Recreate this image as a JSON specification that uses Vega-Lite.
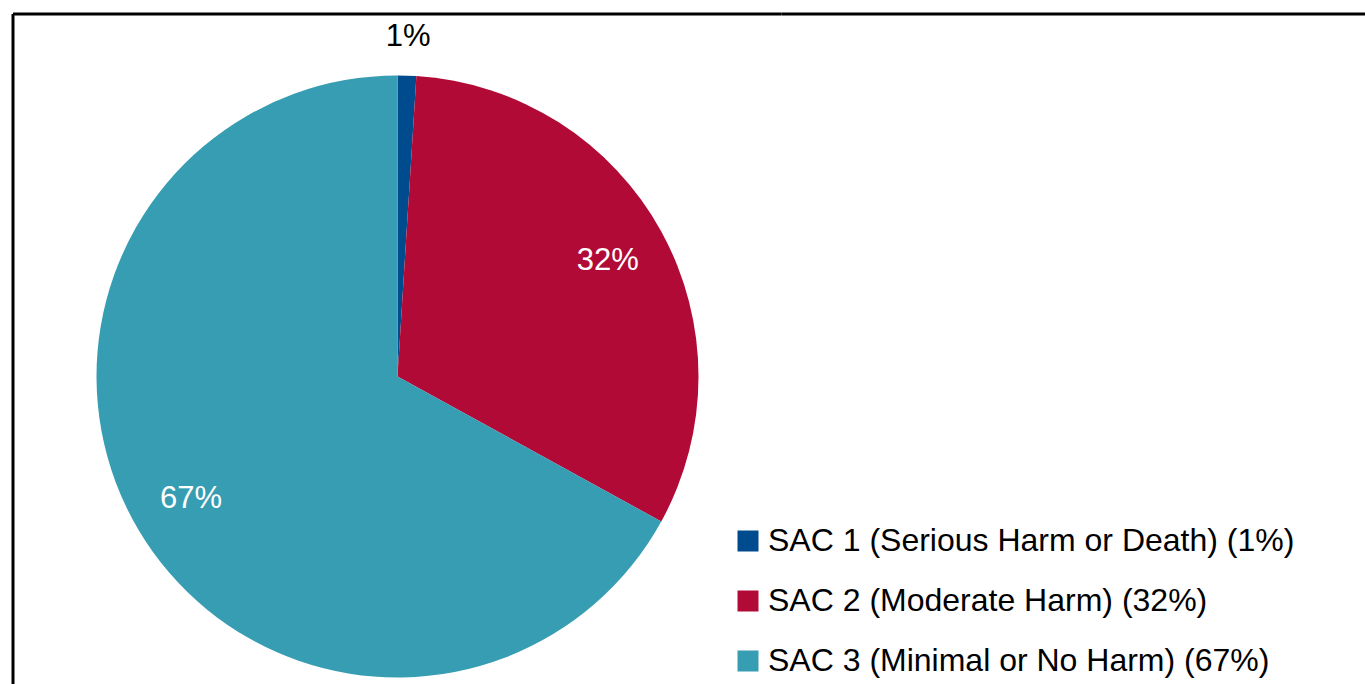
{
  "$schema": "https://vega.github.io/schema/vega-lite/v6.json",
  "padding": {"left": 11, "top": 12, "right": 0, "bottom": -57},
  "spacing": 0,
  "bounds": "flush",
  "background": "white",
  "config": {
    "font": "Liberation Sans",
    "view": {"stroke": "#000000", "strokeWidth": 3}
  },
  "datasets": {
    "sac": [
      {"cat": "SAC 1 (Serious Harm or Death) (1%)", "value": 1, "label": "1%", "ord": 1},
      {"cat": "SAC 2 (Moderate Harm) (32%)", "value": 32, "label": "32%", "ord": 2},
      {"cat": "SAC 3 (Minimal or No Harm) (67%)", "value": 67, "label": "67%", "ord": 3}
    ]
  },
  "hconcat": [
    {
      "width": 769,
      "height": 725,
      "view": {"stroke": "#000000", "strokeWidth": 3, "strokeDash": [768.8, 1494.2, 725, 0]},
      "data": {"name": "sac"},
      "layer": [
        {
          "mark": {"type": "arc", "outerRadius": 301},
          "encoding": {
            "theta": {"field": "value", "type": "quantitative", "stack": true},
            "order": {"field": "ord", "type": "quantitative"},
            "color": {
              "field": "cat",
              "type": "nominal",
              "scale": {
                "domain": ["SAC 1 (Serious Harm or Death) (1%)", "SAC 2 (Moderate Harm) (32%)", "SAC 3 (Minimal or No Harm) (67%)"],
                "range": ["#004B8D", "#B20A37", "#379DB2"]
              },
              "legend": {
                "orient": "none",
                "legendX": 719,
                "legendY": 511,
                "title": null,
                "padding": 0,
                "symbolType": "square",
                "symbolSize": 441,
                "symbolStrokeWidth": 0,
                "labelFontSize": 32,
                "labelColor": "#000000",
                "labelOffset": 4,
                "labelLimit": 0,
                "rowPadding": 28
              }
            }
          }
        },
        {
          "mark": {"type": "text", "radius": 240, "fontSize": 31, "color": "#FFFFFF"},
          "encoding": {
            "theta": {"field": "value", "type": "quantitative", "stack": true},
            "order": {"field": "ord", "type": "quantitative"},
            "detail": {"field": "cat", "type": "nominal"},
            "text": {"condition": {"test": "datum.value >= 10", "field": "label"}, "value": ""}
          }
        },
        {
          "mark": {"type": "text", "radius": 340, "fontSize": 31, "color": "#000000"},
          "encoding": {
            "theta": {"field": "value", "type": "quantitative", "stack": true},
            "order": {"field": "ord", "type": "quantitative"},
            "detail": {"field": "cat", "type": "nominal"},
            "text": {"condition": {"test": "datum.value < 10", "field": "label"}, "value": ""}
          }
        }
      ]
    },
    {
      "width": 585,
      "height": 725,
      "view": {"stroke": "#000000", "strokeWidth": 3, "strokeDash": [585, 10000]},
      "data": {"name": "sac"},
      "mark": {"type": "text", "opacity": 0},
      "encoding": {"text": {"field": "label"}}
    }
  ]
}
